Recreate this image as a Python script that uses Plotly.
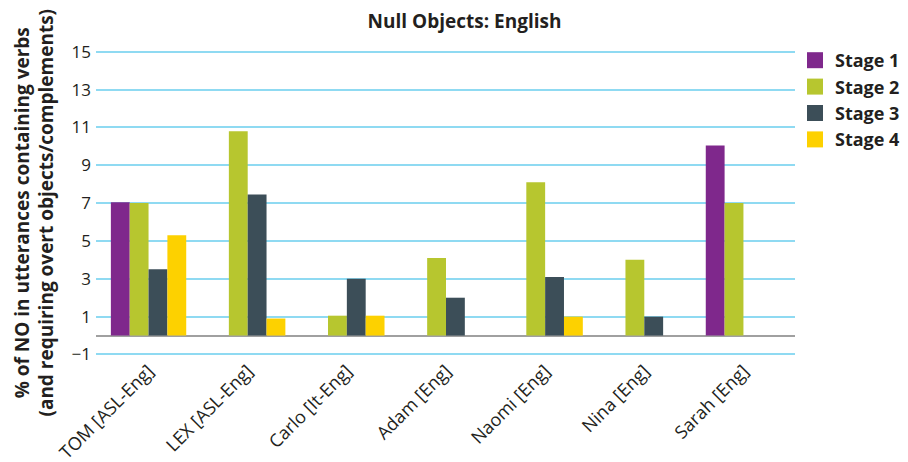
import plotly.graph_objects as go

categories = ["TOM [ASL-Eng]", "LEX [ASL-Eng]", "Carlo [It-Eng]", "Adam [Eng]",
              "Naomi [Eng]", "Nina [Eng]", "Sarah [Eng]"]
stage1 = [7.05, None, None, None, None, None, 10.05]
stage2 = [7.0, 10.8, 1.05, 4.1, 8.1, 4.0, 7.0]
stage3 = [3.5, 7.45, 3.0, 2.0, 3.1, 1.0, None]
stage4 = [5.3, 0.9, 1.05, None, 1.0, None, None]
series_names = ["Stage 1", "Stage 2", "Stage 3", "Stage 4"]
colors = ["#7f288c", "#b7c62f", "#3c4e58", "#fdd100"]
y_ticks = [-1, 1, 3, 5, 7, 9, 11, 13, 15]

FONT = "Open Sans"
TXT = "#231f20"
W, H = 900, 454  # page body adds an 8px offset

fig = go.Figure()
for name, vals, c in zip(series_names, [stage1, stage2, stage3, stage4], colors):
    fig.add_trace(go.Bar(x=categories, y=vals, name=name, marker_color=c,
                         marker_line_width=0, showlegend=False))
    fig.add_trace(go.Scatter(x=[None], y=[None], mode="markers", name=name,
                             marker=dict(symbol="square", size=18, color=c)))

fig.update_layout(
    width=W, height=H,
    margin=dict(l=88, r=107, t=42, b=106),
    paper_bgcolor="white", plot_bgcolor="white",
    barmode="group", bargap=0.24, bargroupgap=0,
    font=dict(family=FONT, color=TXT),
    title=dict(text="<b>Null Objects: English</b>", x=456.5/W, xanchor="center",
               xref="container", y=1-13/H, yanchor="middle", yref="container",
               font=dict(size=19, color=TXT, family=FONT)),
    legend=dict(x=787/W, xanchor="left", y=1-34/H, yanchor="top",
                xref="container", yref="container", itemwidth=30,
                font=dict(size=18, color=TXT, family=FONT, weight="bold"),
                itemsizing="trace", tracegroupgap=0, bgcolor="rgba(0,0,0,0)"),
    showlegend=True,
)
fig.update_xaxes(range=[-0.53, 6.52], tickangle=-45, showgrid=False, showline=False,
                 ticks="", automargin=False,
                 tickfont=dict(size=18, color=TXT, family=FONT))
fig.update_yaxes(range=[-1.08, 15.09], tickvals=y_ticks, showgrid=True,
                 gridcolor="#8fdaf2", gridwidth=2, zeroline=True, zerolinecolor="#a0a0a0",
                 zerolinewidth=2, showline=False, ticks="", ticklabelstandoff=4,
                 automargin=False,
                 tickfont=dict(size=17, color=TXT, family=FONT))
fig.add_annotation(text="<b>% of NO in utterances containing verbs<br>(and requiring overt objects/complements)</b>",
                   xref="paper", yref="paper", x=(25-88)/705, y=(348-205)/306,
                   xanchor="center", yanchor="middle", textangle=-90, showarrow=False,
                   font=dict(size=19, color=TXT, family=FONT))
fig.write_html("out.html")
